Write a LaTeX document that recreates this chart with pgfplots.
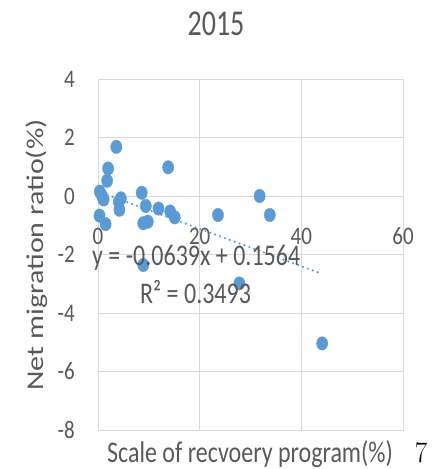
\documentclass[border=0pt]{standalone}
\usepackage{pgfplots}
\pgfplotsset{compat=1.18}
\usepackage{fontspec}
\newfontfamily\carl{Carlito}
\definecolor{txt}{HTML}{595959}
\definecolor{grd}{HTML}{D9D9D9}
\definecolor{pt}{HTML}{5B9BD5}
\newcommand{\vs}[2][1.25]{\scalebox{1}[#1]{#2}}
\begin{document}
\begin{tikzpicture}
\path[use as bounding box] (0,0) rectangle (437pt,469pt);
\begin{axis}[
  at={(98pt,39pt)}, anchor=south west,
  scale only axis, width=305pt, height=351pt,
  xmin=0, xmax=60, ymin=-8, ymax=4,
  xtick={0,20,40,60}, ytick={-8,-6,-4,-2,0,2,4},
  xticklabels={0,20,40,60},
  yticklabels={-8,-6,-4,-2,0,2,4},
  grid=major, major grid style={grd, line width=0.9pt},
  axis line style={grd, line width=0.9pt},
  major tick length=0pt,
  clip=false,
  xticklabel style={font=\carl\fontsize{21}{24}\selectfont, text=txt, anchor=base, inner sep=0pt, yshift=185pt, yscale=1.2},
  yticklabel style={font=\carl\fontsize{21}{24}\selectfont, text=txt, anchor=east, inner sep=0pt, xshift=-23pt, yscale=1.2},
]
\addplot[only marks, mark=*, mark size=5.6pt, mark options={fill=pt, draw=pt, yscale=1.2}] coordinates {
(3.6,1.68) (13.8,0.98) (2.0,0.94) (1.8,0.52) (0.35,0.15) (0.8,0.0) (1.1,-0.12)
(8.6,0.11) (4.5,-0.08) (4.1,-0.2) (4.2,-0.47) (9.4,-0.34) (11.9,-0.43)
(14.2,-0.53) (15.1,-0.73) (0.3,-0.67) (1.5,-0.96) (8.9,-0.93) (9.8,-0.88)
(23.6,-0.65) (31.8,0.0) (33.8,-0.65) (8.9,-2.36) (27.8,-2.99) (44.1,-5.04)
};
\addplot[pt, line width=2.4pt, line cap=round, dash pattern=on 0pt off 5.2pt] coordinates {(0,0.1564) (44.1,-2.6616)};
\end{axis}
\node[anchor=base, inner sep=0pt, text=txt, font=\carl\fontsize{28}{32}\selectfont] at (216pt,433pt) {\vs[1.3]{2015}};
\node[anchor=base, inner sep=0pt, text=txt, font=\carl\fontsize{24}{28}\selectfont] at (250pt,6pt) {\vs{Scale of recvoery program(\%)}};
\node[anchor=base, inner sep=0pt, rotate=90, text=txt, font=\carl\fontsize{24}{28}\selectfont] at (43pt,214pt) {\scalebox{1.25}[1]{Net migration ratio(\%)}};
\node[anchor=base west, inner sep=0pt, text=txt, font=\carl\fontsize{24}{28}\selectfont] at (92pt,203pt) {\vs{y = -0.0639x + 0.1564}};
\node[anchor=base west, inner sep=0pt, text=txt, font=\carl\fontsize{24}{28}\selectfont] at (140pt,165pt) {\vs{R² = 0.3493}};
\node[anchor=base, inner sep=0pt, font=\fontsize{27}{30}\selectfont] at (421pt,6pt) {\vs[1.1]{7}};
\end{tikzpicture}
\end{document}
